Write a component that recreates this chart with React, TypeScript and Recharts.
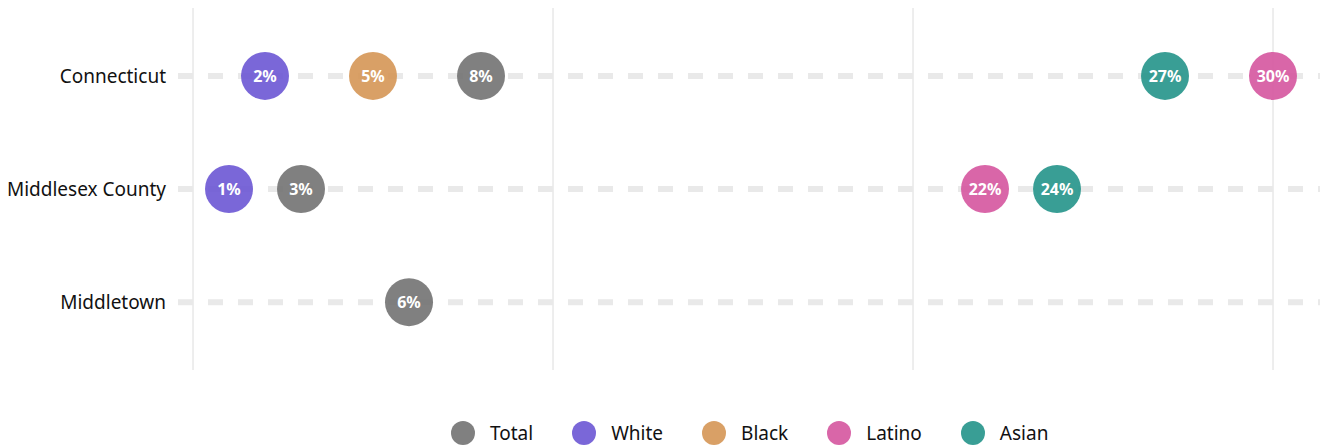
import { ScatterChart, Scatter, XAxis, YAxis, CartesianGrid, Legend, ReferenceLine } from 'recharts'

const places = ['Connecticut', 'Middlesex County', 'Middletown']
const groups = ['Total', 'White', 'Black', 'Latino', 'Asian']

// percent per place, null = no value shown
const total = [8, 3, 6]
const white = [2, 1, null]
const black = [5, null, null]
const latino = [30, 22, null]
const asian = [27, 24, null]

const xTicks = [0, 10, 20, 30]
const rows = [0, 1, 2]

const colors: Record<string, string> = {
  Total: '#727272',
  White: '#6c57d4',
  Black: '#d59655',
  Latino: '#d5559e',
  Asian: '#24938a',
}

const FONT = '"Noto Sans", sans-serif'
const PAD = { left: 15, right: 47 }

const toPoints = (vals: (number | null)[]) =>
  vals
    .map((v, i) => (v == null ? null : { x: v, y: i, place: places[i] }))
    .filter(Boolean) as { x: number; y: number; place: string }[]

const series = [
  { name: 'Total', data: toPoints(total) },
  { name: 'White', data: toPoints(white) },
  { name: 'Black', data: toPoints(black) },
  { name: 'Latino', data: toPoints(latino) },
  { name: 'Asian', data: toPoints(asian) },
]

function Dot(color: string) {
  return ({ cx, cy, payload }: any) => (
    <g>
      <circle cx={cx} cy={cy} r={24} fill={color} fillOpacity={0.9} />
      <text x={cx} y={cy} dy={6} textAnchor="middle" fontFamily={FONT} fontWeight={700} fontSize={16} fill="#fff">
        {payload.x}%
      </text>
    </g>
  )
}

function LegendBox() {
  return (
    <div style={{ height: 78, display: 'flex', alignItems: 'flex-end', paddingLeft: 451, boxSizing: 'border-box', paddingBottom: 3 }}>
      {groups.map((g) => (
        <div key={g} style={{ display: 'flex', alignItems: 'center', marginRight: 39, height: 24 }}>
          <span style={{ width: 24, height: 24, borderRadius: '50%', background: colors[g], opacity: 0.9, marginRight: 15 }} />
          <span style={{ fontFamily: FONT, fontSize: 19, color: '#111' }}>{g}</span>
        </div>
      ))}
    </div>
  )
}

// vertical grid only at the x ticks (not at the plot edges)
const gridX = ({ offset }: any) => {
  const w = offset.width - PAD.left - PAD.right
  return xTicks.map((t) => offset.left + PAD.left + (t / 30) * w)
}

export default function App() {
  return (
    <div style={{ position: 'absolute', left: 0, top: 0, width: 1320, height: 448, background: '#fff' }}>
      <ScatterChart width={1320} height={448} margin={{ top: 8, right: 0, left: 0, bottom: 0 }}>
        <CartesianGrid horizontal={false} stroke="#dcdcdc" verticalCoordinatesGenerator={gridX} />
        <XAxis type="number" dataKey="x" domain={[0, 30]} ticks={xTicks} padding={PAD} hide height={0} />
        <YAxis
          type="number"
          dataKey="y"
          domain={[-0.6, 2.6]}
          ticks={rows}
          reversed
          width={178}
          axisLine={false}
          tickLine={false}
          tickMargin={6}
          tick={{ fontFamily: FONT, fontSize: 19, fill: '#111' }}
          tickFormatter={(v: number) => places[v]}
        />
        {rows.map((r) => (
          <ReferenceLine key={r} y={r} stroke="#e9e9e9" strokeWidth={6} strokeDasharray="15 15" />
        ))}
        <Legend verticalAlign="bottom" content={<LegendBox />} wrapperStyle={{ left: 0, width: 1320 }} />
        {series.map((s) => (
          <Scatter key={s.name} name={s.name} data={s.data} fill={colors[s.name]} shape={Dot(colors[s.name])} isAnimationActive={false} />
        ))}
      </ScatterChart>
    </div>
  )
}
